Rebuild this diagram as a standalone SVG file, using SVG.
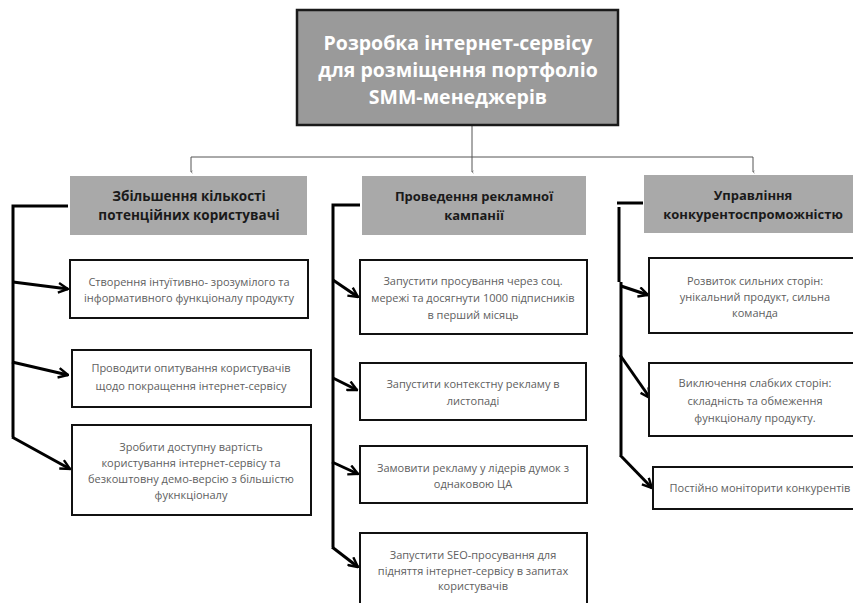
<svg xmlns="http://www.w3.org/2000/svg" width="853" height="603" viewBox="0 0 853 603">
  <style>
    .title { font-family: "Open Sans", "Noto Sans", sans-serif; font-weight: 700; font-size: 19.5px; fill: #ffffff; text-anchor: middle; }
    .head { font-family: "Open Sans", "Noto Sans", sans-serif; font-weight: 700; font-size: 13px; fill: #1a1a1a; text-anchor: middle; }
    .body { font-family: "Open Sans", "Noto Sans", sans-serif; font-size: 11px; fill: #606060; text-anchor: middle; }
    .topbox { fill: #9a9a9a; stroke: #1a1a1a; stroke-width: 2.5; }
    .headbox { fill: #a9a9a9; stroke: none; }
    .item { fill: #ffffff; stroke: #111111; stroke-width: 2; }
    .thin { fill: none; stroke: #555555; stroke-width: 1; }
    .thick { fill: none; stroke: #000000; stroke-width: 3; }
    .arr { fill: none; stroke: #000000; stroke-width: 3; marker-end: url(#chev); }
  </style>
  <defs>
    <marker id="chev" viewBox="0 0 10 10" refX="9" refY="5" markerWidth="4" markerHeight="4" orient="auto" markerUnits="strokeWidth">
      <path d="M1,1 L9,5 L1,9" fill="none" stroke="#000" stroke-width="2"/>
    </marker>
    <marker id="tick" viewBox="0 0 10 10" refX="5" refY="8" markerWidth="4" markerHeight="4" orient="auto" markerUnits="userSpaceOnUse">
      <path d="M2,4 L5,8 L8,4" fill="none" stroke="#555" stroke-width="1.5"/>
    </marker>
  </defs>

  <!-- connectors -->
  <g id="connectors">
    <path class="thin" d="M472,125 V157"/>
    <path class="thin" d="M191,157 H753"/>
    <path class="thin" d="M191,157 V172" marker-end="url(#tick)"/>
    <path class="thin" d="M472,157 V172" marker-end="url(#tick)"/>
    <path class="thin" d="M753,157 V172" marker-end="url(#tick)"/>

    <!-- column 1 bracket -->
    <path class="thick" d="M68,206 H13 V437"/>
    <path class="arr" d="M13,282 L68,289"/>
    <path class="arr" d="M12,362 L68,375"/>
    <path class="arr" d="M12,437 L70,469"/>

    <!-- column 2 bracket -->
    <path class="thick" d="M360,205 H333 V547"/>
    <path class="arr" d="M333,280 L358,297"/>
    <path class="arr" d="M333,378 L357,390"/>
    <path class="arr" d="M332,462 L358,474"/>
    <path class="arr" d="M332,547 L358,567"/>

    <!-- column 3 bracket -->
    <path class="thick" d="M643,203 H617"/>
    <path class="thick" d="M619,207 V282"/>
    <path class="thick" d="M621,282 V455"/>
    <path class="arr" d="M621,286 L648,295"/>
    <path class="arr" d="M620,355 L650,398"/>
    <path class="arr" d="M620,455 L652,488"/>
  </g>

  <g id="root">
    <rect class="topbox" x="297" y="10" width="321" height="115"/>
    <text class="title" x="458" y="50">Розробка інтернет-сервісу</text>
    <text class="title" x="458" y="77">для розміщення портфоліо</text>
    <text class="title" x="458" y="104">SMM-менеджерів</text>
  </g>

  <g id="goal-users">
    <rect class="headbox" x="70" y="176" width="237" height="59"/>
    <text class="head" x="189" y="201" style="font-size:13.5px">Збільшення кількості</text>
    <text class="head" x="189" y="220" style="font-size:13.5px">потенційних користувачі</text>
  </g>
  <g id="goal-ads">
    <rect class="headbox" x="362" y="176" width="224" height="59"/>
    <text class="head" x="474" y="201">Проведення рекламної</text>
    <text class="head" x="474" y="220">кампанії</text>
  </g>
  <g id="goal-competition">
    <rect class="headbox" x="644" y="175" width="211" height="58"/>
    <text class="head" x="753" y="200">Управління</text>
    <text class="head" x="753" y="219">конкурентоспроможністю</text>
  </g>

  <g id="u1">
    <rect class="item" x="70" y="260" width="238" height="58"/>
    <text class="body" x="189" y="286">Створення інтуїтивно- зрозумілого та</text>
    <text class="body" x="189" y="302">інформативного функціоналу продукту</text>
  </g>
  <g id="u2">
    <rect class="item" x="72" y="350" width="239" height="57"/>
    <text class="body" x="191" y="372">Проводити опитування користувачів</text>
    <text class="body" x="191" y="390">щодо покращення інтернет-сервісу</text>
  </g>
  <g id="u3">
    <rect class="item" x="72" y="425" width="239" height="90"/>
    <text class="body" x="191" y="451">Зробити доступну вартість</text>
    <text class="body" x="191" y="467">користування інтернет-сервісу та</text>
    <text class="body" x="191" y="483">безкоштовну демо-версію з більшістю</text>
    <text class="body" x="191" y="499">фукнкціоналу</text>
  </g>

  <g id="a1">
    <rect class="item" x="360" y="260" width="227" height="74"/>
    <text class="body" x="473" y="285">Запустити просування через соц.</text>
    <text class="body" x="473" y="302">мережі та досягнути 1000 підписників</text>
    <text class="body" x="473" y="319">в перший місяць</text>
  </g>
  <g id="a2">
    <rect class="item" x="360" y="363" width="226" height="57"/>
    <text class="body" x="473" y="388">Запустити контекстну рекламу в</text>
    <text class="body" x="473" y="405">листопаді</text>
  </g>
  <g id="a3">
    <rect class="item" x="360" y="446" width="227" height="57"/>
    <text class="body" x="473" y="472">Замовити рекламу у лідерів думок з</text>
    <text class="body" x="473" y="488">однаковою ЦА</text>
  </g>
  <g id="a4">
    <rect class="item" x="360" y="533" width="227" height="80"/>
    <text class="body" x="473" y="559">Запустити SEO-просування для</text>
    <text class="body" x="473" y="575">підняття інтернет-сервісу в запитах</text>
    <text class="body" x="473" y="590">користувачів</text>
  </g>

  <g id="c1">
    <rect class="item" x="649" y="258" width="210" height="75"/>
    <text class="body" x="755" y="285">Розвиток сильних сторін:</text>
    <text class="body" x="755" y="301">унікальний продукт, сильна</text>
    <text class="body" x="755" y="317">команда</text>
  </g>
  <g id="c2">
    <rect class="item" x="649" y="363" width="210" height="73"/>
    <text class="body" x="755" y="387">Виключення слабких сторін:</text>
    <text class="body" x="755" y="405">складність та обмеження</text>
    <text class="body" x="755" y="422">функціоналу продукту.</text>
  </g>
  <g id="c3">
    <rect class="item" x="653" y="467" width="206" height="42"/>
    <text class="body" x="760" y="492">Постійно моніторити конкурентів</text>
  </g>
</svg>
